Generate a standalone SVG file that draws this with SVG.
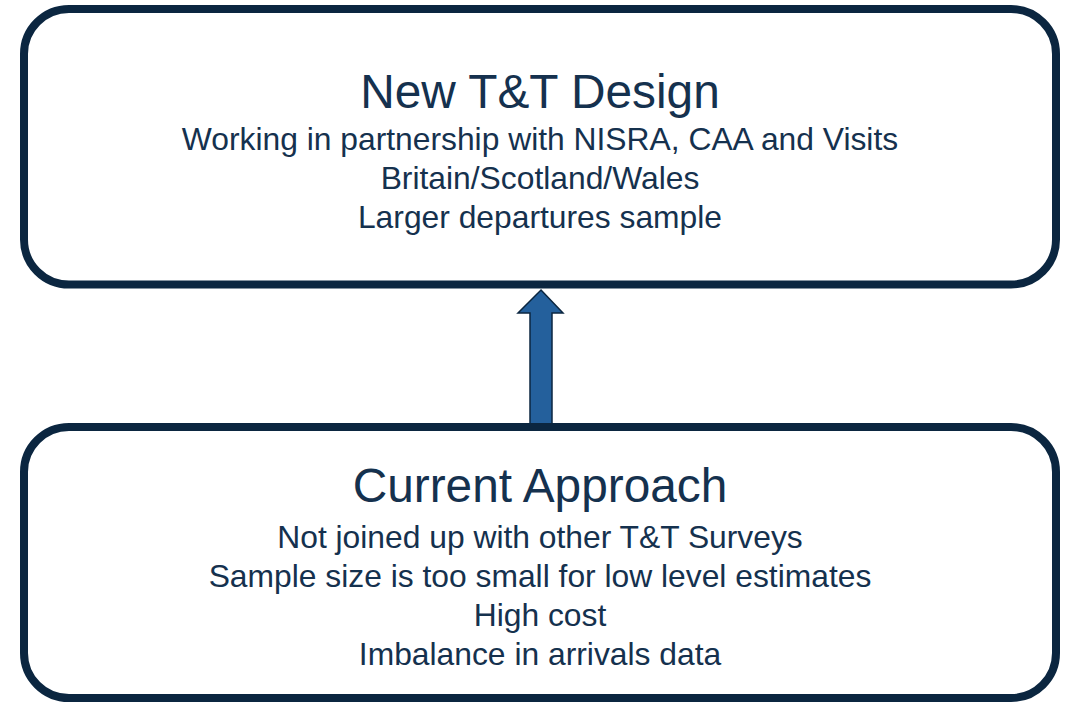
<svg xmlns="http://www.w3.org/2000/svg" width="1069" height="703" viewBox="0 0 1069 703">
<style>
.box{fill:#ffffff;stroke:#0b2640;stroke-width:8}
.t{font-family:"Liberation Sans",Arial,sans-serif;fill:#15314e;text-anchor:middle}
.h{font-size:47.8px}
.b{font-size:31.8px}
.arrow{fill:#24609c;stroke:#0b2640;stroke-width:1.5;stroke-linejoin:miter}
</style>
<rect width="1069" height="703" fill="#ffffff"/>
<g id="connectors">
<polygon class="arrow" points="541,290 563,313 552,313 552,427 530,427 530,313 518,313"/>
</g>
<g id="node-new-design">
<rect class="box" x="24" y="9" width="1032" height="275.5" rx="45" ry="45"/>
<text class="t h" x="540" y="108">New T&amp;T Design</text>
<text class="t b" x="540" y="150">Working in partnership with NISRA, CAA and Visits</text>
<text class="t b" x="540" y="189">Britain/Scotland/Wales</text>
<text class="t b" x="540" y="228">Larger departures sample</text>
</g>
<g id="node-current-approach">
<rect class="box" x="24" y="427" width="1032" height="271" rx="45" ry="45"/>
<text class="t h" x="540" y="502">Current Approach</text>
<text class="t b" x="540" y="548">Not joined up with other T&amp;T Surveys</text>
<text class="t b" x="540" y="587">Sample size is too small for low level estimates</text>
<text class="t b" x="540" y="626">High cost</text>
<text class="t b" x="540" y="665">Imbalance in arrivals data</text>
</g>
</svg>
